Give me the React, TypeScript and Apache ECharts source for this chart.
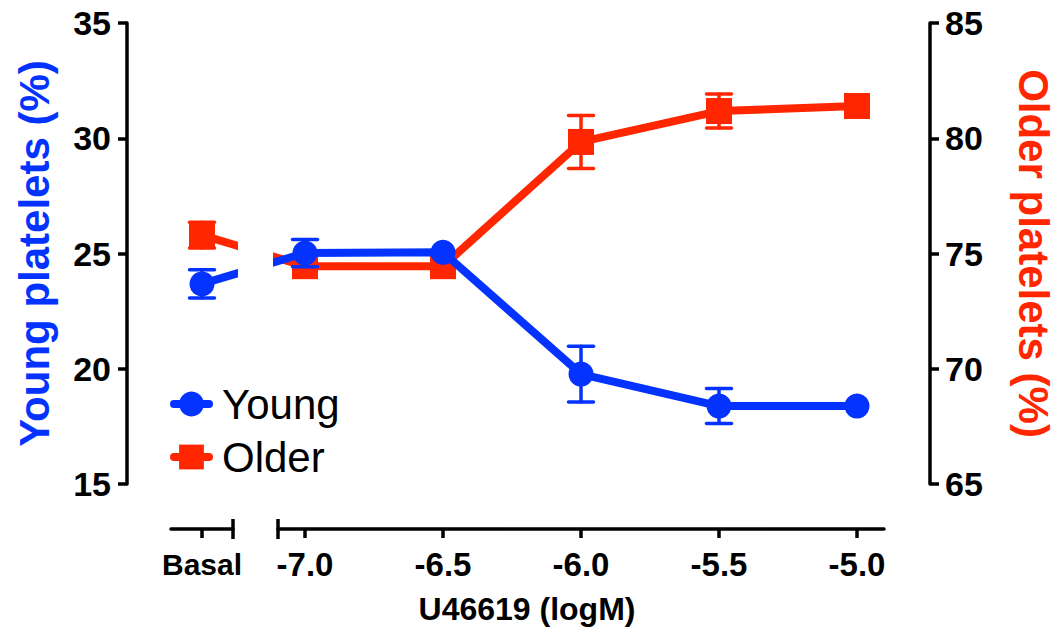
import React, { useEffect, useRef } from "react";
import * as echarts from "echarts";

// ---------------- data ----------------
const categories = ["Basal", "-7.0", "-6.5", "-6.0", "-5.5", "-5.0"];
const doses: (number | null)[] = [null, -7, -6.5, -6, -5.5, -5]; // log M; null = basal
const youngMean = [23.68, 25.02, 25.05, 19.77, 18.38, 18.38];
const youngSem = [0.61, 0.59, 0, 1.21, 0.76, 0];
const olderMean = [75.8, 74.45, 74.45, 79.84, 81.18, 81.4];
const olderSem = [0.56, 0, 0, 1.15, 0.74, 0];
const xTickValues = [-7, -6.5, -6, -5.5, -5];
const seriesNames = ["Young", "Older"];

// ---------------- layout (pixels) ----------------
const W = 1061;
const H = 635;
const AX_L = 127;
const AX_R = 930;
const Y_TOP = 23;
const Y_BOT = 484;
const X_AXIS_Y = 529;
const BASAL_START = 171;
const BASAL_END = 233;
const RIGHT_START = 278;
const RIGHT_END = 884;
const X_BASAL = 202;
const X_M7 = 305;
const X_M5 = 857;
const PPU = (X_M5 - X_M7) / 2;
const mainMin = -7 - (X_M7 - AX_L) / PPU;
const mainMax = -5 + (AX_R - X_M5) / PPU;
const basalPos = -7 - (X_M7 - X_BASAL) / PPU;
const segMin = -7 - (X_M7 - RIGHT_START) / PPU;
const segMax = -5 + (RIGHT_END - X_M5) / PPU;

const BLUE = "#0433FF";
const RED = "#FF2600";
const FONT = "'Liberation Sans', Arial, Helvetica, sans-serif";

const xOf = (i: number) => (doses[i] === null ? basalPos : (doses[i] as number));

function errSeries(name: string, means: number[], sems: number[], color: string, yAxisIndex: number, z: number) {
  return {
    type: "custom",
    name: name + "-err",
    xAxisIndex: 0,
    yAxisIndex,
    z,
    silent: true,
    encode: { x: 0, y: 1 },
    data: means.map((m, i) => [xOf(i), m, sems[i]]),
    renderItem: (params: any, api: any) => {
      const x = api.value(0);
      const y = api.value(1);
      const e = api.value(2);
      if (!e || e <= 0) return { type: "group", children: [] };
      const top = api.coord([x, y + e]);
      const bot = api.coord([x, y - e]);
      const hw = 12.5;
      const st = { stroke: color, lineWidth: 3.5, lineCap: "round" };
      return {
        type: "group",
        children: [
          { type: "line", shape: { x1: top[0], y1: top[1], x2: bot[0], y2: bot[1] }, style: st },
          { type: "line", shape: { x1: top[0] - hw, y1: top[1], x2: top[0] + hw, y2: top[1] }, style: st },
          { type: "line", shape: { x1: bot[0] - hw, y1: bot[1], x2: bot[0] + hw, y2: bot[1] }, style: st },
        ],
      };
    },
  };
}

export default function App() {
  const ref = useRef<HTMLDivElement>(null);
  useEffect(() => {
    if (!ref.current) return;
    const chart = echarts.init(ref.current, null, { renderer: "svg" });
    const axisLine = { show: true, lineStyle: { color: "#000", width: 3.5 } };
    const axisTick = { show: true, length: 9, lineStyle: { color: "#000", width: 3.5 } };
    const gridBase = { containLabel: false, outerBoundsMode: "none" };
    const option: any = {
      animation: false,
      backgroundColor: "#fff",
      textStyle: { fontFamily: FONT },
      grid: [
        { ...gridBase, left: AX_L, right: W - AX_R, top: Y_TOP, bottom: H - Y_BOT },
        { ...gridBase, left: BASAL_START, width: BASAL_END - BASAL_START, top: X_AXIS_Y - 40, bottom: H - X_AXIS_Y },
        { ...gridBase, left: RIGHT_START, width: RIGHT_END - RIGHT_START, top: X_AXIS_Y - 40, bottom: H - X_AXIS_Y },
      ],
      xAxis: [
        { gridIndex: 0, type: "value", min: mainMin, max: mainMax, show: false },
        {
          gridIndex: 1,
          type: "category",
          data: [categories[0]],
          boundaryGap: true,
          axisLine,
          axisTick: { ...axisTick, alignWithLabel: true },
          axisLabel: { fontSize: 30, fontWeight: "bold", color: "#000", margin: 20, fontFamily: FONT },
          splitLine: { show: false },
        },
        {
          gridIndex: 2,
          type: "value",
          min: segMin,
          max: segMax,
          axisLine,
          axisTick: { ...axisTick, customValues: xTickValues },
          axisLabel: {
            fontSize: 33,
            fontWeight: "bold",
            color: "#000",
            margin: 19,
            fontFamily: FONT,
            customValues: xTickValues,
            formatter: (v: number) => categories[xTickValues.indexOf(v) + 1] ?? v.toFixed(1),
          },
          splitLine: { show: false },
        },
      ],
      yAxis: [
        {
          gridIndex: 0,
          type: "value",
          position: "left",
          min: 15,
          max: 35,
          interval: 5,
          axisLine,
          axisTick,
          axisLabel: { fontSize: 34, fontWeight: "bold", color: "#000", margin: 16, fontFamily: FONT },
          splitLine: { show: false },
          name: "Young platelets (%)",
          nameLocation: "middle",
          nameGap: 72,
          nameRotate: 90,
          nameTextStyle: { fontSize: 42, fontWeight: "bold", color: BLUE, fontFamily: FONT },
        },
        {
          gridIndex: 0,
          type: "value",
          position: "right",
          min: 65,
          max: 85,
          interval: 5,
          axisLine,
          axisTick,
          axisLabel: { fontSize: 34, fontWeight: "bold", color: "#000", margin: 15, fontFamily: FONT },
          splitLine: { show: false },
          name: "Older platelets (%)",
          nameLocation: "middle",
          nameGap: 82,
          nameRotate: -90,
          nameTextStyle: { fontSize: 42, fontWeight: "bold", color: RED, fontFamily: FONT },
        },
        { gridIndex: 1, type: "value", min: 0, max: 1, show: false },
        { gridIndex: 2, type: "value", min: 0, max: 1, show: false },
      ],
      legend: {
        data: seriesNames,
        orient: "vertical",
        left: 165,
        top: 378,
        itemWidth: 35,
        itemHeight: 31,
        itemGap: 11,
        selectedMode: false,
        lineStyle: { width: 8, cap: "round" },
        textStyle: { fontSize: 42, color: "#000", fontFamily: FONT, padding: [0, 0, 0, 8] },
      },
      series: [
        errSeries(seriesNames[1], olderMean, olderSem, RED, 1, 3),
        {
          type: "line",
          name: seriesNames[1],
          xAxisIndex: 0,
          yAxisIndex: 1,
          z: 4,
          symbol: "rect",
          symbolSize: 26,
          lineStyle: { color: RED, width: 8 },
          itemStyle: { color: RED },
          data: olderMean.map((m, i) => [xOf(i), m]),
        },
        errSeries(seriesNames[0], youngMean, youngSem, BLUE, 0, 5),
        {
          type: "line",
          name: seriesNames[0],
          xAxisIndex: 0,
          yAxisIndex: 0,
          z: 6,
          symbol: "circle",
          symbolSize: 25,
          lineStyle: { color: BLUE, width: 8 },
          itemStyle: { color: BLUE },
          data: youngMean.map((m, i) => [xOf(i), m]),
        },
      ],
      graphic: [
        // axis break gap over the connecting lines
        { type: "rect", z: 100, shape: { x: BASAL_END + 5, y: 200, width: RIGHT_START - BASAL_END - 10, height: 120 }, style: { fill: "#fff" } },
        // break caps
        { type: "line", z: 100, shape: { x1: BASAL_END, y1: X_AXIS_Y - 10, x2: BASAL_END, y2: X_AXIS_Y + 10 }, style: { stroke: "#000", lineWidth: 3.5 } },
        { type: "line", z: 100, shape: { x1: RIGHT_START, y1: X_AXIS_Y - 10, x2: RIGHT_START, y2: X_AXIS_Y + 10 }, style: { stroke: "#000", lineWidth: 3.5 } },
        {
          type: "text",
          z: 100,
          x: 527,
          y: 609,
          style: {
            text: "U46619 (logM)",
            fontSize: 32,
            fontWeight: "bold",
            fill: "#000",
            fontFamily: FONT,
            textAlign: "center",
            textVerticalAlign: "middle",
          },
        },
      ],
    };
    chart.setOption(option);
    return () => chart.dispose();
  }, []);
  return <div ref={ref} style={{ position: "fixed", left: 0, top: 0, width: W, height: H }} />;
}
